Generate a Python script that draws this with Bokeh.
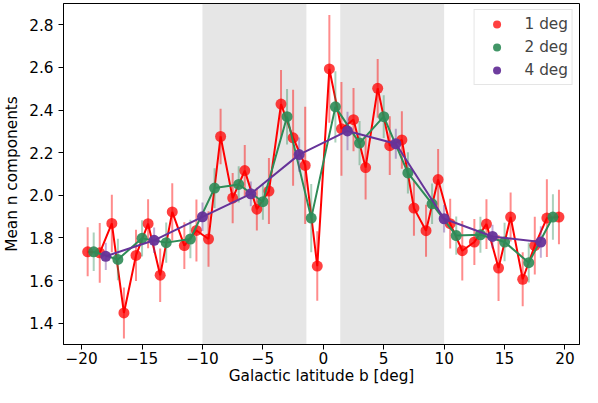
import numpy as np
from bokeh.plotting import figure
from bokeh.models import (Range1d, FixedTicker, PrintfTickFormatter, BoxAnnotation,
                          Legend, LegendItem)
from bokeh.embed import file_html
from bokeh.resources import INLINE

# ---------------- data ----------------
b_1deg = [-19.5, -18.5, -17.5, -16.5, -15.5, -14.5, -13.5, -12.5, -11.5, -10.5,
          -9.5, -8.5, -7.5, -6.5, -5.5, -4.5, -3.5, -2.5, -1.5, -0.5,
          0.5, 1.5, 2.5, 3.5, 4.5, 5.5, 6.5, 7.5, 8.5, 9.5,
          10.5, 11.5, 12.5, 13.5, 14.5, 15.5, 16.5, 17.5, 18.5, 19.5]
n_1deg = [1.735, 1.730, 1.868, 1.448, 1.718, 1.867, 1.625, 1.922, 1.764, 1.835,
          1.795, 2.276, 1.987, 2.116, 1.935, 2.020, 2.428, 2.270, 2.140, 1.668,
          2.593, 2.312, 2.355, 2.130, 2.502, 2.233, 2.260, 1.940, 1.834, 2.074,
          1.867, 1.740, 1.781, 1.865, 1.659, 1.898, 1.606, 1.764, 1.893, 1.898]
e_1deg = [0.115, 0.140, 0.135, 0.120, 0.120, 0.115, 0.126, 0.135, 0.110, 0.145,
          0.130, 0.130, 0.118, 0.120, 0.100, 0.155, 0.160, 0.225, 0.275, 0.163,
          0.253, 0.220, 0.148, 0.150, 0.138, 0.138, 0.135, 0.130, 0.122, 0.143,
          0.117, 0.140, 0.108, 0.117, 0.155, 0.115, 0.127, 0.135, 0.182, 0.128]

b_2deg = [-19, -17, -15, -13, -11, -9, -7, -5, -3, -1,
          1, 3, 5, 7, 9, 11, 13, 15, 17, 19]
n_2deg = [1.735, 1.699, 1.798, 1.778, 1.795, 2.034, 2.051, 1.970, 2.369, 1.893,
          2.415, 2.245, 2.369, 2.105, 1.960, 1.811, 1.815, 1.781, 1.684, 1.898]
e_2deg = [0.090, 0.097, 0.085, 0.095, 0.090, 0.093, 0.085, 0.085, 0.130, 0.160,
          0.167, 0.104, 0.100, 0.097, 0.095, 0.090, 0.085, 0.090, 0.093, 0.107]

b_4deg = [-18, -14, -10, -6, -2, 2, 6, 10, 14, 18]
n_4deg = [1.714, 1.789, 1.899, 2.007, 2.191, 2.302, 2.242, 1.890, 1.807, 1.781]
e_4deg = [0.064, 0.060, 0.067, 0.058, 0.080, 0.090, 0.070, 0.064, 0.055, 0.074]

series_labels = ["1 deg", "2 deg", "4 deg"]
shaded_bands = [(-10.0, -1.4), (1.4, 10.0)]
x_ticks = [-20, -15, -10, -5, 0, 5, 10, 15, 20]
y_ticks = [1.4, 1.6, 1.8, 2.0, 2.2, 2.4, 2.6, 2.8]
x_lim = (-21.5, 21.2)
y_lim = (1.30, 2.90)
x_label = "Galactic latitude b [deg]"
y_label = "Mean n components"

# ---------------- style ----------------
FONT = "DejaVu Sans"
FS = "15.3px"

p = figure(width=582, height=387, output_backend="svg", toolbar_location=None,
           x_range=Range1d(*x_lim), y_range=Range1d(*y_lim),
           min_border_left=60, min_border_right=3, min_border_top=3,
           min_border_bottom=35)
p.background_fill_color = "white"
p.border_fill_color = "white"
p.xgrid.visible = False
p.ygrid.visible = False
p.outline_line_color = "black"
p.outline_line_alpha = 1.0
p.outline_line_width = 1

for lo, hi in shaded_bands:
    p.add_layout(BoxAnnotation(left=lo, right=hi, fill_color="gray", fill_alpha=0.2,
                               line_color=None, level="underlay"))

for ax in (p.xaxis[0], p.yaxis[0]):
    ax.major_tick_in = 0
    ax.major_tick_out = 5
    ax.minor_tick_line_color = None
    ax.major_tick_line_color = "black"
    ax.axis_line_color = "black"
    ax.major_label_text_font = FONT
    ax.major_label_text_font_size = FS
    ax.major_label_text_color = "black"
    ax.axis_label_text_font = FONT
    ax.axis_label_text_font_size = FS
    ax.axis_label_text_font_style = "normal"
    ax.axis_label_text_color = "black"

p.xaxis.axis_label = x_label
p.yaxis.axis_label = y_label
p.xaxis.ticker = FixedTicker(ticks=x_ticks)
p.xaxis.major_label_overrides = {t: (("\u2212%d" % (-t)) if t < 0 else "%d" % t) for t in x_ticks}
p.xaxis.major_label_standoff = 2
p.xaxis.axis_label_standoff = 0
p.yaxis.ticker = FixedTicker(ticks=y_ticks)
p.yaxis.formatter = PrintfTickFormatter(format="%.1f")
p.yaxis.major_label_standoff = 5
p.yaxis.axis_label_standoff = 5

series = [
    (b_1deg, n_1deg, e_1deg, "#ff0000", 0.75, 0.45, series_labels[0]),
    (b_2deg, n_2deg, e_2deg, "#2e8b57", 0.9, 0.4, series_labels[1]),
    (b_4deg, n_4deg, e_4deg, "#663399", 0.95, 0.4, series_labels[2]),
]

items = []
for bx, ny, ey, col, malpha, ealpha, lab in series:
    ny_a = np.array(ny)
    ey_a = np.array(ey)
    p.segment(x0=bx, y0=list(ny_a - ey_a), x1=bx, y1=list(ny_a + ey_a),
              line_color=col, line_alpha=ealpha, line_width=2)
    p.line(bx, ny, line_color=col, line_width=2)
    r = p.scatter(bx, ny, marker="circle", size=11, fill_color=col, fill_alpha=malpha,
                  line_color=None)
    items.append(LegendItem(label=lab, renderers=[r]))

legend = Legend(items=items, location="top_right")
legend.label_text_font = FONT
legend.label_text_font_size = FS
legend.padding = 4
legend.spacing = 3
legend.glyph_width = 36
legend.glyph_height = 20
legend.label_height = 20
legend.label_width = 20
legend.label_standoff = 10
legend.margin = 6
legend.border_line_color = "#cccccc"
legend.border_line_width = 1
legend.background_fill_alpha = 0.8
p.add_layout(legend)

open("out.html", "w").write(file_html(p, INLINE))
